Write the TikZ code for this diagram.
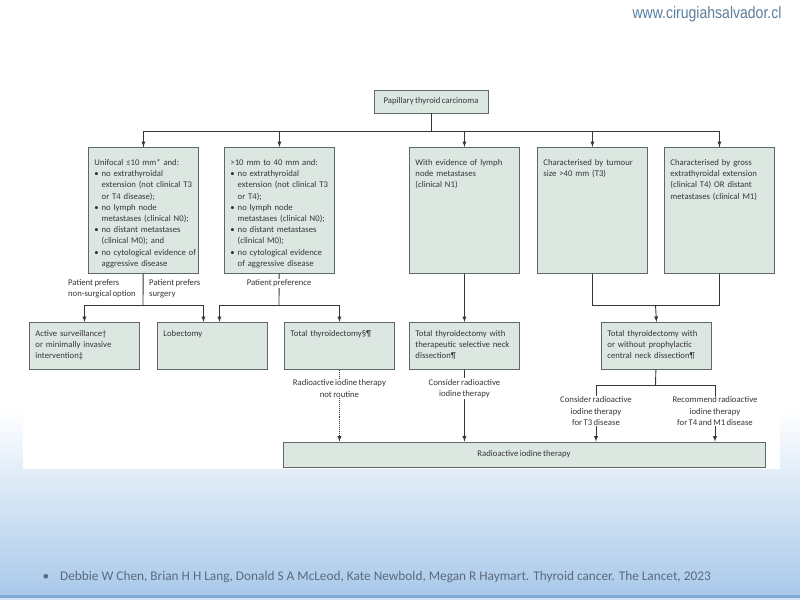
\documentclass[tikz,border=0pt]{standalone}
\usepackage{fontspec}
\setmainfont{Carlito}
\newfontfamily\boxfamily[WordSpace=0.7]{Carlito}
\newfontfamily\urlfont[FakeStretch=0.85]{Liberation Sans}
\usepackage{tikz}
\usetikzlibrary{arrows}

\definecolor{boxfill}{HTML}{DCE7E2}
\definecolor{boxline}{HTML}{5E6864}
\definecolor{ink}{HTML}{363636}
\definecolor{slideblue}{HTML}{A9C9EA}
\definecolor{slideline}{HTML}{7FA9D6}
\definecolor{urlblue}{HTML}{5A7E9E}
\definecolor{refgrey}{HTML}{5B6A80}

\newcommand{\boxfont}{\boxfamily\fontsize{8.7}{11.2}\selectfont}
\newcommand{\ind}{\hphantom{\textbullet\ }}

\tikzset{
  box/.style={draw=boxline,fill=boxfill,line width=0.9pt,anchor=north west,align=left,
              text width=98pt,inner xsep=6pt,inner ysep=0pt,font=\boxfont,text=ink},
  tallbox/.style={box,text height=18pt,text depth=108pt},
  lowbox/.style={box,text height=14pt,text depth=33pt},
  lbl/.style={font=\boxfont,text=ink,align=center,inner sep=1pt},
  link/.style={draw=ink,line width=0.9pt}
}

\begin{document}
\begin{tikzpicture}[x=1pt,y=-1pt]
  % slide background
  \useasboundingbox (0,0) rectangle (800,600);
  \fill[white] (0,0) rectangle (800,600);
  \shade[top color=white,bottom color=slideblue] (0,410) rectangle (800,595);
  \fill[slideline] (0,595) rectangle (800,598);
  \fill[slideblue!50] (0,598) rectangle (800,600);
  \fill[white] (23,80) rectangle (780,469);
  \node[anchor=east,font=\urlfont\fontsize{16.5}{17}\selectfont,text=urlblue] (url) at (785,14) {www.cirugiahsalvador.cl};
  \node[anchor=west,font=\fontsize{13.3}{15}\selectfont,text=refgrey] (ref) at (39,577)
       {\textbullet\hspace{11pt}Debbie W Chen, Brian H H Lang, Donald S A McLeod, Kate Newbold, Megan R Haymart. Thyroid cancer. The Lancet, 2023};

  % top of the tree
  \node[draw=boxline,fill=boxfill,line width=0.9pt,font=\boxfont,text=ink,minimum width=114pt,minimum height=23pt] (ptc) at (431,101.5) {Papillary thyroid carcinoma};

  \node[tallbox] (c1) at (88,147) {Unifocal ≤10 mm* and:\\
    \textbullet\ no extrathyroidal\\ \ind\mbox{extension (not clinical T3}\\ \ind or T4 disease);\\
    \textbullet\ no lymph node\\ \ind\mbox{metastases (clinical N0);}\\
    \textbullet\ no distant metastases\\ \ind (clinical M0); and\\
    \mbox{\textbullet\ no cytological evidence of}\\ \ind aggressive disease};
  \node[tallbox] (c2) at (224,147) {>10 mm to 40 mm and:\\
    \textbullet\ no extrathyroidal\\ \ind\mbox{extension (not clinical T3}\\ \ind or T4);\\
    \textbullet\ no lymph node\\ \ind\mbox{metastases (clinical N0);}\\
    \textbullet\ no distant metastases\\ \ind (clinical M0);\\
    \textbullet\ no cytological evidence\\ \ind of aggressive disease};
  \node[tallbox] (c3) at (409,147) {With evidence of lymph\\node metastases\\(clinical N1)};
  \node[tallbox] (c4) at (537,147) {Characterised by tumour\\size >40 mm (T3)};
  \node[tallbox] (c5) at (664,147) {Characterised by gross\\extrathyroidal extension\\(clinical T4) OR distant\\metastases (clinical M1)};

  \node[lowbox] (d1) at (29,322) {Active surveillance†\\or minimally invasive\\intervention‡};
  \node[lowbox] (d2) at (157,322) {Lobectomy};
  \node[lowbox] (d3) at (284,322) {Total thyroidectomy§¶};
  \node[lowbox] (d4) at (409,322) {Total thyroidectomy with\\therapeutic selective neck\\dissection¶};
  \node[lowbox] (d5) at (601,322) {Total thyroidectomy with\\or without prophylactic\\central neck dissection¶};

  \node[draw=boxline,fill=boxfill,line width=0.9pt,font=\boxfont,text=ink,minimum width=482pt,minimum height=25pt] (rai) at (524,454.5) {Radioactive iodine therapy};

  % connectors
  \coordinate (bus) at (431,131);
  \draw[link] (ptc) -- (bus);
  \draw[link] (bus) -| (c1.north) (bus) -| (c5.north);
  \foreach \n in {c1,c2,c3,c4,c5}
    \draw[link,-latex] (\n.north |- bus) -- (\n.north);

  \coordinate (s1) at (143,305);
  \draw[link] (c1) -- (s1);
  \draw[link,-latex] (s1) -| (d1.north);
  \draw[link,-latex] (s1) -| ([xshift=-9pt]d2.north);
  \node[lbl,align=left,anchor=east] (nonsurg) at (137,289) {Patient prefers\\non-surgical option};
  \node[lbl,align=left,anchor=west] (surg) at (148,289) {Patient prefers\\surgery};

  \coordinate (s2) at (279,305);
  \draw[link] (c2) -- node[lbl,fill=white,pos=0.31] (pref) {Patient preference} (s2);
  \draw[link,-latex] (s2) -| ([xshift=7pt]d2.north);
  \draw[link,-latex] (s2) -| (d3.north);

  \draw[link,-latex] (c3) -- (d4);

  \coordinate (s3) at (655.5,305);
  \draw[link] (c4.south) |- (s3);
  \draw[link] (c5.south) |- (s3);
  \draw[link,-latex] (s3) -- (d5.north);

  \draw[link,densely dotted,-latex] (d3) -- node[lbl,fill=white,pos=0.26] (notroutine) {Radioactive iodine therapy\\not routine} (d3 |- rai.north);
  \draw[link,-latex] (d4) -- node[lbl,fill=white,pos=0.26] (consider) {Consider radioactive\\iodine therapy} (d4 |- rai.north);

  \coordinate (s4) at (655.5,385);
  \draw[link] (d5) -- (s4);
  \draw[link,-latex] (s4) -| node[lbl,fill=white,pos=0.73] (t3) {Consider radioactive\\iodine therapy\\for T3 disease} ([xshift=72pt]rai.north);
  \draw[link,-latex] (s4) -| node[lbl,fill=white,pos=0.73] (t4m1) {Recommend radioactive\\iodine therapy\\for T4 and M1 disease} ([xshift=191pt]rai.north);
\end{tikzpicture}
\end{document}
